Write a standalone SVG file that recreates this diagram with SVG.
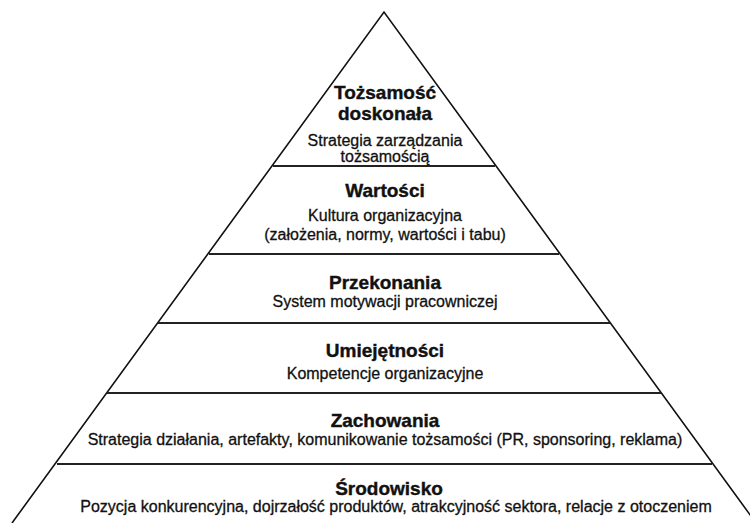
<svg xmlns="http://www.w3.org/2000/svg" width="750" height="523" viewBox="0 0 750 523">
<style>
.edge{fill:none;stroke:#111;stroke-width:1.6}
.sep{stroke:#222;stroke-width:2.2}
text{font-family:"Liberation Sans",Arial,sans-serif;text-anchor:middle;fill:#111;stroke:#111}
.t{font-size:19px;font-weight:bold;stroke-width:0.4}
.s{font-size:16px;stroke-width:0.3}
</style>
<rect width="750" height="523" fill="#fff"/>
<g id="connectors">
<polyline class="edge" points="12,523 384,12 756,523"/>
<line class="sep" x1="273" y1="166" x2="495" y2="166"/>
<line class="sep" x1="209" y1="254" x2="559" y2="254"/>
<line class="sep" x1="158" y1="323" x2="610" y2="323"/>
<line class="sep" x1="107" y1="393" x2="661" y2="393"/>
<line class="sep" x1="57" y1="464" x2="712" y2="464"/>
</g>
<g id="tozsamosc">
<text class="t" x="385" y="99">Tożsamość</text>
<text class="t" x="385" y="120">doskonała</text>
<text class="s" x="385" y="146">Strategia zarządzania</text>
<text class="s" x="385" y="162">tożsamością</text>
</g>
<g id="wartosci">
<text class="t" x="385" y="197">Wartości</text>
<text class="s" x="385" y="221">Kultura organizacyjna</text>
<text class="s" x="385" y="240">(założenia, normy, wartości i tabu)</text>
</g>
<g id="przekonania">
<text class="t" x="385" y="289">Przekonania</text>
<text class="s" x="385" y="307">System motywacji pracowniczej</text>
</g>
<g id="umiejetnosci">
<text class="t" x="385" y="357">Umiejętności</text>
<text class="s" x="385" y="379">Kompetencje organizacyjne</text>
</g>
<g id="zachowania">
<text class="t" x="385" y="427">Zachowania</text>
<text class="s" x="385" y="445">Strategia działania, artefakty, komunikowanie tożsamości (PR, sponsoring, reklama)</text>
</g>
<g id="srodowisko">
<text class="t" x="389" y="495">Środowisko</text>
<text class="s" x="396" y="512">Pozycja konkurencyjna, dojrzałość produktów, atrakcyjność sektora, relacje z otoczeniem</text>
</g>
</svg>
